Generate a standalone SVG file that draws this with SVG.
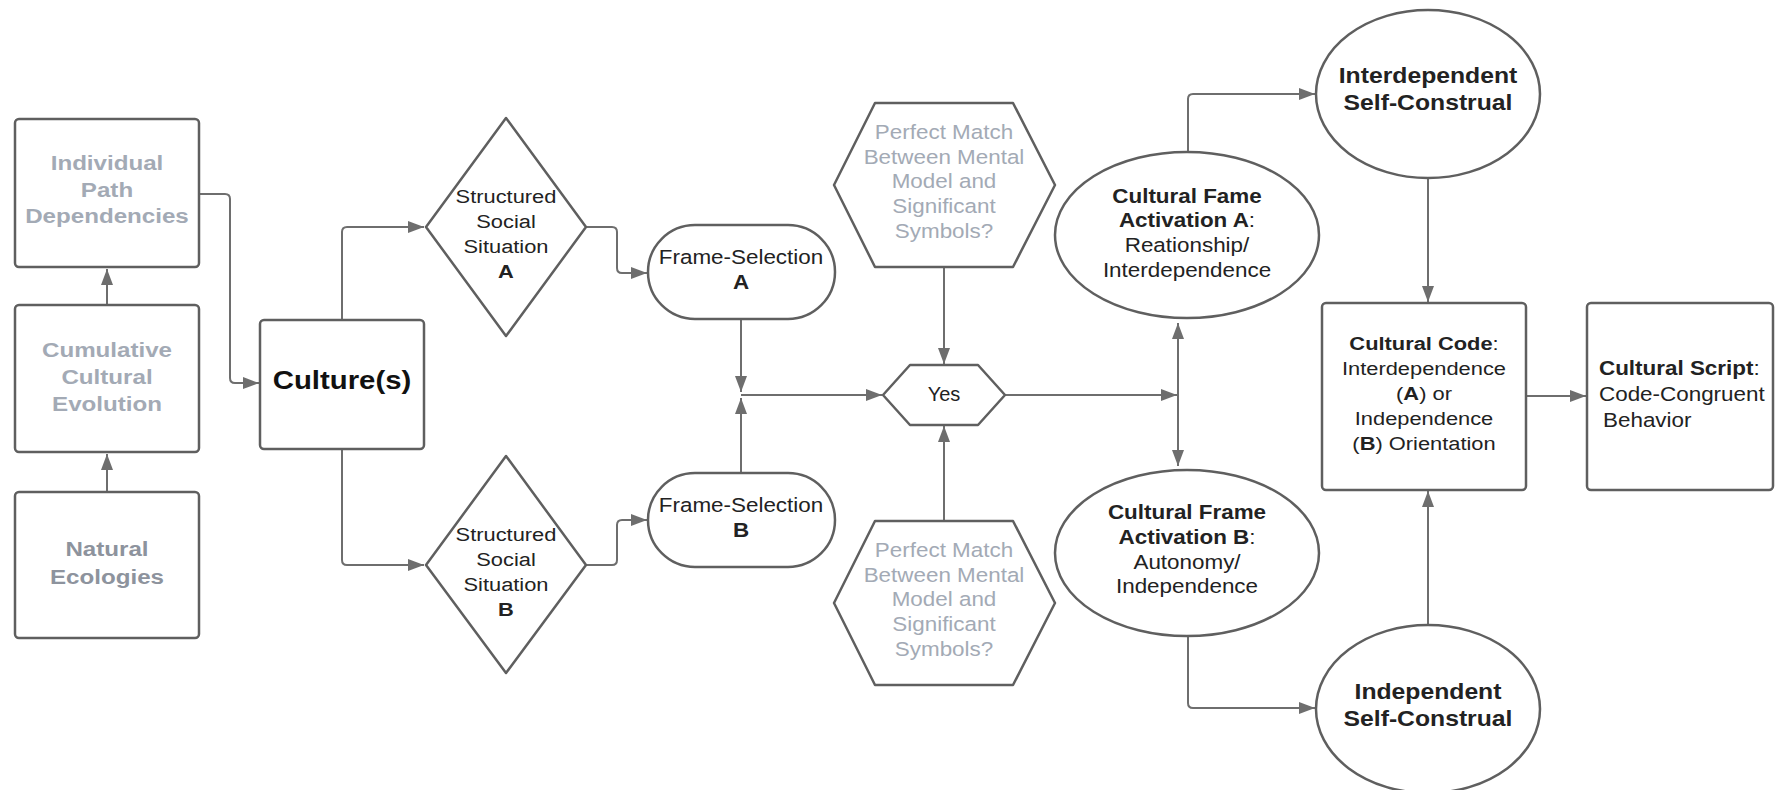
<svg xmlns="http://www.w3.org/2000/svg" width="1776" height="790" viewBox="0 0 1776 790">
<style>
.shape{fill:#fff;stroke:#5f5f5f;stroke-width:2.5;stroke-linejoin:round}
.cn{fill:none;stroke:#6e6e6e;stroke-width:2}
.cn path{marker-end:url(#ah)}
text{font-family:"Liberation Sans",Arial,Helvetica,sans-serif;text-anchor:middle;fill:#222}
.g{fill:#a3aab5}
.gd{fill:#8d939d}
.b{font-weight:bold}
.s21{font-size:21px}
.s19{font-size:19.5px}
.s21b{font-size:21.5px}
</style>
<defs>
<marker id="ah" viewBox="0 0 16 12" refX="16" refY="6" markerWidth="16" markerHeight="12" markerUnits="userSpaceOnUse" orient="auto-start-reverse">
<path d="M0,0 L16,6 L0,12 z" fill="#6e6e6e"/>
</marker>
</defs>
<rect width="1776" height="790" fill="#fff"/>

<g id="connectors" class="cn">
<path d="M107,492 V454"/>
<path d="M107,305 V269"/>
<path d="M199,194 H225 Q230,194 230,199 V378 Q230,383 235,383 H259"/>
<path d="M342,320 V232 Q342,227 347,227 H424"/>
<path d="M342,449 V560 Q342,565 347,565 H424"/>
<path d="M586,227 H612 Q617,227 617,232 V268 Q617,273 622,273 H647"/>
<path d="M586,565 H612 Q617,565 617,560 V525 Q617,520 622,520 H647"/>
<path d="M741,319 V392"/>
<path d="M741,473 V398"/>
<path d="M741,395 H882"/>
<path d="M944,267 V364"/>
<path d="M944,521 V426"/>
<path d="M1005,395 H1177"/>
<path d="M1178,323 V466" style="marker-start:url(#ah)"/>
<path d="M1188,152 V99 Q1188,94 1193,94 H1315"/>
<path d="M1188,637 V703 Q1188,708 1193,708 H1315"/>
<path d="M1428,178 V302"/>
<path d="M1428,625 V491"/>
<path d="M1526,396 H1586"/>
</g>

<g id="node-ipd">
<rect class="shape" x="15" y="119" width="184" height="148" rx="4"/>
<g transform="translate(107 0) scale(1.15 1)"><text class="g b s21"><tspan x="0" y="170">Individual</tspan><tspan x="0" y="197">Path</tspan><tspan x="0" y="223">Dependencies</tspan></text></g>
</g>
<g id="node-cumulative">
<rect class="shape" x="15" y="305" width="184" height="147" rx="4"/>
<g transform="translate(107 0) scale(1.15 1)"><text class="g b s21"><tspan x="0" y="357">Cumulative</tspan><tspan x="0" y="384">Cultural</tspan><tspan x="0" y="411">Evolution</tspan></text></g>
</g>
<g id="node-natural">
<rect class="shape" x="15" y="492" width="184" height="146" rx="4"/>
<g transform="translate(107 0) scale(1.15 1)"><text class="gd b s21"><tspan x="0" y="556">Natural</tspan><tspan x="0" y="584">Ecologies</tspan></text></g>
</g>
<g id="node-culture">
<rect class="shape" x="260" y="320" width="164" height="129" rx="4"/>
<g transform="translate(342 0) scale(1.15 1)"><text class="b" style="font-size:25.5px;fill:#111" x="0" y="389">Culture(s)</text></g>
</g>

<g id="node-situation-a">
<polygon class="shape" points="506,118 586,227 506,336 426,227"/>
<g transform="translate(506 0) scale(1.15 1)"><text class="s19" style="font-size:19px"><tspan x="0" y="203">Structured</tspan><tspan x="0" y="228">Social</tspan><tspan x="0" y="253">Situation</tspan><tspan x="0" y="278" class="b">A</tspan></text></g>
</g>
<g id="node-situation-b">
<polygon class="shape" points="506,456 586,565 506,673 426,565"/>
<g transform="translate(506 0) scale(1.15 1)"><text style="font-size:19px"><tspan x="0" y="541">Structured</tspan><tspan x="0" y="566">Social</tspan><tspan x="0" y="591">Situation</tspan><tspan x="0" y="616" class="b">B</tspan></text></g>
</g>

<g id="node-frame-a">
<rect class="shape" x="648" y="225" width="187" height="94" rx="47"/>
<g transform="translate(741 0) scale(1.15 1)"><text class="s19"><tspan x="0" y="264">Frame-Selection</tspan><tspan x="0" y="289" class="b">A</tspan></text></g>
</g>
<g id="node-frame-b">
<rect class="shape" x="648" y="473" width="187" height="94" rx="47"/>
<g transform="translate(741 0) scale(1.15 1)"><text class="s19"><tspan x="0" y="512">Frame-Selection</tspan><tspan x="0" y="537" class="b">B</tspan></text></g>
</g>

<g id="node-match-top">
<polygon class="shape" points="834,185 875,103 1013,103 1055,185 1013,267 875,267"/>
<g transform="translate(944 0) scale(1.15 1)"><text class="g s19"><tspan x="0" y="139">Perfect Match</tspan><tspan x="0" y="164">Between Mental</tspan><tspan x="0" y="188">Model and</tspan><tspan x="0" y="213">Significant</tspan><tspan x="0" y="238">Symbols?</tspan></text></g>
</g>
<g id="node-yes">
<polygon class="shape" points="883,395 910,365 978,365 1005,395 978,425 910,425"/>
<text class="s19" x="944" y="401" style="font-size:20px">Yes</text>
</g>
<g id="node-match-bottom">
<polygon class="shape" points="834,603 875,521 1013,521 1055,603 1013,685 875,685"/>
<g transform="translate(944 0) scale(1.15 1)"><text class="g s19"><tspan x="0" y="557">Perfect Match</tspan><tspan x="0" y="582">Between Mental</tspan><tspan x="0" y="606">Model and</tspan><tspan x="0" y="631">Significant</tspan><tspan x="0" y="656">Symbols?</tspan></text></g>
</g>

<g id="node-activation-a">
<ellipse class="shape" cx="1187" cy="235" rx="132" ry="83"/>
<g transform="translate(1187 0) scale(1.15 1)"><text class="s19"><tspan x="0" y="203" class="b">Cultural Fame</tspan><tspan x="0" y="227"><tspan class="b">Activation A</tspan>:</tspan><tspan x="0" y="252">Reationship/</tspan><tspan x="0" y="277">Interdependence</tspan></text></g>
</g>
<g id="node-activation-b">
<ellipse class="shape" cx="1187" cy="553" rx="132" ry="83"/>
<g transform="translate(1187 0) scale(1.15 1)"><text class="s19"><tspan x="0" y="519" class="b">Cultural Frame</tspan><tspan x="0" y="544"><tspan class="b">Activation B</tspan>:</tspan><tspan x="0" y="569">Autonomy/</tspan><tspan x="0" y="593">Independence</tspan></text></g>
</g>

<g id="node-interdependent">
<ellipse class="shape" cx="1428" cy="94" rx="112" ry="84"/>
<g transform="translate(1428 0) scale(1.15 1)"><text class="b s21b"><tspan x="0" y="83">Interdependent</tspan><tspan x="0" y="110">Self-Construal</tspan></text></g>
</g>
<g id="node-independent">
<ellipse class="shape" cx="1428" cy="709" rx="112" ry="84"/>
<g transform="translate(1428 0) scale(1.15 1)"><text class="b s21b"><tspan x="0" y="699">Independent</tspan><tspan x="0" y="726">Self-Construal</tspan></text></g>
</g>

<g id="node-code">
<rect class="shape" x="1322" y="303" width="204" height="187" rx="4"/>
<g transform="translate(1424 0) scale(1.15 1)"><text style="font-size:19px"><tspan x="0" y="350"><tspan class="b">Cultural Code</tspan>:</tspan><tspan x="0" y="375">Interdependence</tspan><tspan x="0" y="400">(<tspan class="b">A</tspan>) or</tspan><tspan x="0" y="425">Independence</tspan><tspan x="0" y="450">(<tspan class="b">B</tspan>) Orientation</tspan></text></g>
</g>
<g id="node-script">
<rect class="shape" x="1587" y="303" width="186" height="187" rx="4"/>
<g transform="translate(1599 0) scale(1.15 1)"><text class="s19" style="text-anchor:start"><tspan x="0" y="375"><tspan class="b">Cultural Script</tspan>:</tspan><tspan x="0" y="401">Code-Congruent</tspan><tspan x="3.5" y="427">Behavior</tspan></text></g>
</g>
</svg>
